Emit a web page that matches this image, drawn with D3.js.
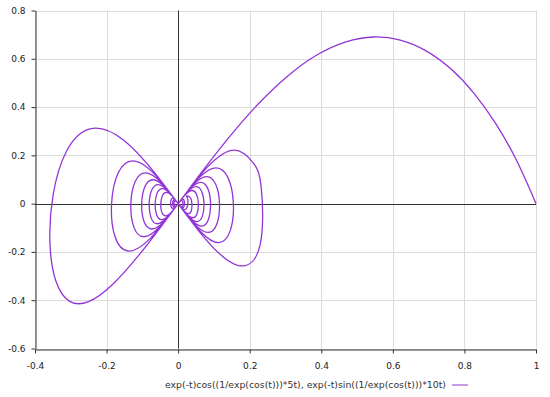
<!DOCTYPE html>
<html>
<head>
<meta charset="utf-8">
<script src="https://cdn.jsdelivr.net/npm/d3@7/dist/d3.min.js"></script>
<style>
  html, body { margin: 0; padding: 0; background: #fff; }
  svg { display: block; }
  .axis .domain { stroke: #333; }
  .axis .tick line { stroke: #333; }
  .axis .tick text { font-family: 'DejaVu Sans', Verdana, sans-serif; font-size: 9px; fill: #222; }
</style>
</head>
<body>
<svg id="chart" width="550" height="397"></svg>
<script>
// axis ticks
const xTicks = [-0.4, -0.2, 0, 0.2, 0.4, 0.6, 0.8, 1];
const yTicks = [-0.6, -0.4, -0.2, 0, 0.2, 0.4, 0.6, 0.8];

const legendLabel = 'exp(-t)cos((1/exp(cos(t)))*5t), exp(-t)sin((1/exp(cos(t)))*10t)';

// parametric curve, points (in order along the curve)
const curveX = [
  1, 0.9472, 0.8894, 0.8274, 0.7618, 0.6928, 0.6209, 0.5462, 0.4689, 0.3887,
  0.3073, 0.2238, 0.1393, 0.0546, -0.0289, -0.1092, -0.1841, -0.2504, -0.3044, -0.3419,
  -0.3583, -0.3495, -0.3124, -0.2462, -0.1539, -0.0436, 0.0706, 0.1690, 0.2293, 0.2322,
  0.2090,
  0.1568, 0.0823, 0, -0.0772, -0.1390, -0.1767, -0.1860, -0.1673, -0.1251, -0.0661,
  0, 0.0630, 0.1139, 0.1457, 0.1544, 0.1395, 0.1047, 0.0556, 0, -0.0535,
  -0.0969, -0.1242, -0.1322, -0.1200, -0.0903, -0.0480, 0, 0.0464, 0.0843, 0.1084,
  0.1155, 0.1049, 0.0790, 0.0421, 0, -0.0408, -0.0743, -0.0956, -0.1019, -0.0927,
  -0.0699, -0.0373, 0, 0.0363, 0.0660, 0.0849, 0.0906, 0.0826, 0.0623, 0.0333,
  0, -0.0323, -0.0589, -0.0758, -0.0809, -0.0737, -0.0556, -0.0297, 0, 0.0288,
  0.0525, 0.0677, 0.0722, 0.0658, 0.0496, 0.0265, 0, -0.0257, -0.0468, -0.0602,
  -0.0642, -0.0584, -0.0440, -0.0235, 0, 0.0227, 0.0413, 0.0531, 0.0565, 0.0513,
  0.0386, 0.0205, 0, -0.0197, -0.0358, -0.0458, -0.0485, -0.0438, -0.0328, -0.0173,
  0, 0.0164, 0.0293, 0.0370, 0.0383, 0.0336,
  0.0235,
  0.0265, 0.0269, 0.0239, 0.0175, 0.0092, 0, -0.0086, -0.0156, -0.0198, -0.0210,
  -0.0189, -0.0141, -0.0075, 0, 0.0072, 0.0130, 0.0166, 0.0177, 0.0160, 0.0120,
  0.0064, 0, -0.0062, -0.0112, -0.0143, -0.0152, -0.0138, -0.0104, -0.0055, 0,
  0.0053, 0.0096, 0.0124, 0.0132, 0.0120, 0.0090, 0.0048, 0, -0.0046, -0.0084,
  -0.0107, -0.0114, -0.0103, -0.0078, -0.0041, 0, 0.0040, 0.0072
];
const curveY = [
  0, 0.1742, 0.3270, 0.4558, 0.5585, 0.6329, 0.6774, 0.6903, 0.6702, 0.6165,
  0.5300, 0.4126, 0.2694, 0.1086, -0.0576, -0.2125, -0.3358, -0.4058, -0.4036, -0.3197,
  -0.1625, 0.0353, 0.2159, 0.3097, 0.2646, 0.0861, -0.1364, -0.2563, -0.1690, 0.0665,
  0.1702,
  0.2218, 0.1521, 0, -0.1427, -0.1965, -0.1352, 0, 0.1281, 0.1769, 0.1221,
  0, -0.1163, -0.1611, -0.1116, 0, 0.1068, 0.1480, 0.1027, 0, -0.0988,
  -0.1370, -0.0951, 0, 0.0919, 0.1277, 0.0887, 0, -0.0857, -0.1192, -0.0830,
  0, 0.0803, 0.1117, 0.0777, 0, -0.0755, -0.1051, -0.0732, 0, 0.0709,
  0.0989, 0.0689, 0, -0.0670, -0.0933, -0.0650, 0, 0.0632, 0.0881, 0.0614,
  0, -0.0597, -0.0832, -0.0580, 0, 0.0564, 0.0787, 0.0549, 0, -0.0533,
  -0.0743, -0.0518, 0, 0.0503, 0.0702, 0.0489, 0, -0.0475, -0.0661, -0.0461,
  0, 0.0447, 0.0622, 0.0433, 0, -0.0420, -0.0584, -0.0406, 0, 0.0392,
  0.0545, 0.0379, 0, -0.0365, -0.0506, -0.0351, 0, 0.0335, 0.0463, 0.0320,
  0, -0.0302, -0.0415, -0.0283, 0, 0.0257,
  0.0320,
  0.0203, 0, -0.0183, -0.0247, -0.0170, 0, 0.0160, 0.0220, 0.0152, 0,
  -0.0145, -0.0200, -0.0139, 0, 0.0133, 0.0184, 0.0127, 0, -0.0123, -0.0170,
  -0.0118, 0, 0.0114, 0.0158, 0.0110, 0, -0.0106, -0.0147, -0.0102, 0,
  0.0098, 0.0136, 0.0095, 0, -0.0091, -0.0127, -0.0088, 0, 0.0085, 0.0118,
  0.0082, 0, -0.0079, -0.0110, -0.0076, 0, 0.0073, 0.0102
];

const lineColor = '#9235d6';

const width = 550;
const height = 397;
const margin = { top: 10.5, right: 14, bottom: 48.5, left: 35 };

const svg = d3.select('#chart');

const x = d3.scaleLinear()
  .domain([-0.4, 1])
  .range([margin.left, width - margin.right]);

const y = d3.scaleLinear()
  .domain([-0.6, 0.8])
  .range([height - margin.bottom, margin.top]);

const crisp = v => Math.round(v) + 0.5;

// Grid lines
const grid = svg.append('g').attr('class', 'grid');

grid.selectAll('.vgrid')
  .data(xTicks)
  .enter()
  .append('line')
  .attr('x1', d => crisp(x(d)))
  .attr('x2', d => crisp(x(d)))
  .attr('y1', y(0.8))
  .attr('y2', y(-0.6))
  .attr('stroke', '#dcdcdc');

grid.selectAll('.hgrid')
  .data(yTicks)
  .enter()
  .append('line')
  .attr('x1', x(-0.4))
  .attr('x2', x(1))
  .attr('y1', d => crisp(y(d)))
  .attr('y2', d => crisp(y(d)))
  .attr('stroke', '#dcdcdc');

// Zero lines
svg.append('line')
  .attr('x1', x(-0.4))
  .attr('x2', x(1))
  .attr('y1', crisp(y(0)))
  .attr('y2', crisp(y(0)))
  .attr('stroke', '#333');

svg.append('line')
  .attr('x1', crisp(x(0)))
  .attr('x2', crisp(x(0)))
  .attr('y1', y(0.8))
  .attr('y2', y(-0.6))
  .attr('stroke', '#333');

// Y Axis
svg.append('g')
  .attr('class', 'axis')
  .attr('transform', `translate(${crisp(x(-0.4))},0)`)
  .call(d3.axisLeft(y)
    .tickValues(yTicks)
    .tickSize(4)
    .tickSizeOuter(0)
    .tickPadding(6)
    .tickFormat(d => String(d)));

// X Axis
svg.append('g')
  .attr('class', 'axis')
  .attr('transform', `translate(0,${crisp(y(-0.6))})`)
  .call(d3.axisBottom(x)
    .tickValues(xTicks)
    .tickSize(4)
    .tickSizeOuter(0)
    .tickPadding(9)
    .tickFormat(d => String(d)));

// Curve
const points = curveX.map((v, i) => [v, curveY[i]]);

const line = d3.line()
  .x(d => x(d[0]))
  .y(d => y(d[1]))
  .curve(d3.curveNatural);

svg.append('path')
  .datum(points)
  .attr('fill', 'none')
  .attr('stroke', lineColor)
  .attr('stroke-width', 1.3)
  .attr('stroke-linejoin', 'round')
  .attr('d', line);

// Legend
const legend = svg.append('g').attr('class', 'legend');

legend.append('text')
  .attr('x', 165)
  .attr('y', 388)
  .attr('font-family', "'DejaVu Sans', Verdana, sans-serif")
  .attr('font-size', '9.5px')
  .attr('fill', '#333')
  .attr('textLength', 281)
  .attr('lengthAdjust', 'spacingAndGlyphs')
  .text(legendLabel);

legend.append('line')
  .attr('x1', 452)
  .attr('x2', 468)
  .attr('y1', 385)
  .attr('y2', 385)
  .attr('stroke', '#b27ae2')
  .attr('stroke-width', 1.5);
</script>
</body>
</html>
